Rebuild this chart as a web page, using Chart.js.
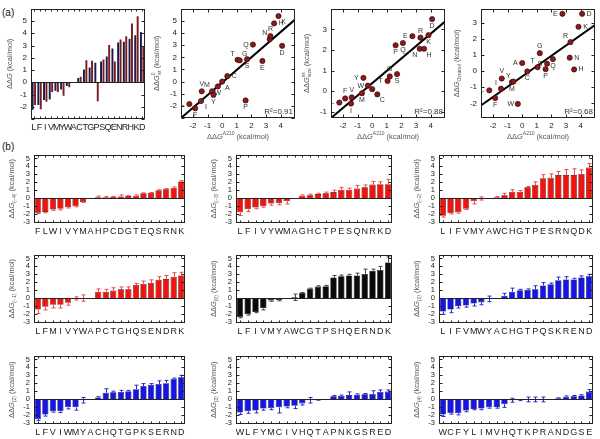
<!DOCTYPE html>
<html><head><meta charset="utf-8">
<script src="https://cdn.jsdelivr.net/npm/chart.js@4.4.1/dist/chart.umd.min.js"></script>
<style>
html,body{margin:0;padding:0;background:#fff}
body{position:relative;width:600px;height:439px;overflow:hidden;font-family:'Liberation Sans',Arial,sans-serif}
canvas{position:absolute}
.tag{position:absolute;font-size:10px;color:#111}
</style></head><body>
<div class="tag" style="left:2px;top:7px">(a)</div>
<div class="tag" style="left:2px;top:141px">(b)</div>
<script>
// ─── DATA: panel (a) ─────────────────────────────────────────
const aaA = ['L','F','I','V','M','Y','W','A','C','T','G','P','S','Q','E','N','R','H','K','D'];
const ddgA210    = [-2.25,-1.85,-1.45,-1.4,-0.7,-0.6,-0.3,0,0.35,1.05,1.2,1.6,1.7,2.1,2.75,3.25,3.3,3.55,3.85,4.1];
const ddgWt      = [-1.85,-2.2,-1.6,-0.8,-0.8,-1.1,-0.4,0,0.45,1.8,1.75,-1.55,1.85,3.05,1.7,3.5,3.75,4.8,5.4,2.95];
const ddgSize    = [-0.55,-0.35,-0.6,-0.3,-0.1,0.65,0.27,0.1,-0.15,0.5,0.72,2.23,0.83,2.34,2.67,2.06,2.6,2.06,2.72,3.5];
const ddgOctanol = [-1.19,-1.67,-1.09,-0.46,-0.68,-0.65,-2.03,0.5,-0.02,0.24,1.11,0.12,0.46,0.74,3.54,0.83,1.79,0.1,2.74,3.54];
const fitWt = [1.04, -0.07];       // slope, intercept
const fitSize = [0.6, 0.39];
const fitOctanol = [0.637, -0.33];
const r2Text = ['R²=0.91', 'R²=0.88', 'R²=0.68'];

// ─── DATA: panel (b) ─────────────────────────────────────────
const aaM4 = 'F L W I V Y M A H P C D G T E Q S R N K'.split(' ');
const ddgM4 = [-1.85,-1.75,-1.45,-1.35,-1.15,-1.05,-0.5,0,0.1,0.1,0.15,0.2,0.25,0.3,0.6,0.65,1.0,1.1,1.3,2.1];
const errM4 = [0.1,0.1,0.1,0.15,0.1,0.05,0.05,0,0.15,0.1,0.05,0.2,0.05,0.1,0.05,0.05,0.05,0.1,0.1,0.1];

const aaM3 = 'L F I V Y W M A G H C T P E S Q N R K D'.split(' ');
const ddgM3 = [-1.8,-1.4,-1.2,-1.05,-0.7,-0.65,-0.4,0,0.3,0.35,0.5,0.6,0.75,1.05,1.05,1.2,1.35,1.7,1.75,1.75];
const errM3 = [0.4,0.3,0.15,0.1,0.2,0.2,0.35,0,0.1,0.15,0.1,0.15,0.25,0.3,0.2,0.4,0.3,0.4,0.3,0.6];

const aaM2 = 'L I F V M Y A W C H G T P E S R N Q D K'.split(' ');
const ddgM2 = [-2.25,-1.9,-1.8,-1.35,-0.4,-0.05,0,0.1,0.35,0.8,0.8,1.35,1.65,2.5,2.55,2.9,2.9,2.9,3.05,3.85];
const errM2 = [0.15,0.1,0.1,0.1,0.35,0.2,0,0.1,0.25,0.25,0.15,0.1,0.4,0.45,0.5,0.45,0.7,0.8,0.5,0.5];

const aaM1 = 'L F M I V Y W A P C T G H Q S E N D R K'.split(' ');
const ddgM1 = [-1.45,-1.1,-0.85,-0.85,-0.6,-0.05,0,0,0.8,0.8,0.95,1.1,1.1,1.65,1.8,1.9,2.3,2.4,2.7,2.85];
const errM1 = [0.5,0.4,0.4,0.4,0.3,0.2,0.4,0,0.35,0.3,0.35,0.3,0.3,0.2,0.35,0.4,0.4,0.45,0.5,0.4];

const aa0 = 'L F I V M Y A W C G T P S H Q E R N D K'.split(' ');
const ddg0 = [-2.4,-2.05,-1.75,-1.3,-0.3,-0.25,0,0.1,0.65,1.2,1.45,1.5,2.6,2.75,2.85,2.85,3.05,3.45,3.55,4.5];
const err0 = [0.1,0.1,0.1,0.2,0.1,0.1,0,0.4,0.05,0.05,0.1,0.1,0.25,0.15,0.15,0.3,0.6,0.2,0.45,0.7];

const aaP1 = 'L I F V M W Y A C H G T P Q S K R E N D'.split(' ');
const ddgP1 = [-1.7,-1.45,-1.0,-0.95,-0.7,-0.55,-0.1,0,0.3,0.8,1.0,1.05,1.1,1.6,1.75,2.25,2.35,2.35,2.6,2.75];
const errP1 = [0.35,0.4,0.25,0.2,0.3,0.3,0.35,0,0.3,0.45,0.1,0.1,0.45,0.35,0.15,0.4,0.35,0.15,0.2,0.25];

const aaP2 = 'L F V I W M Y A C H Q T G P K S E R N D'.split(' ');
const ddgP2 = [-2.55,-1.95,-1.55,-1.55,-1.05,-1.05,-0.15,0,0.2,0.8,0.85,0.9,1.0,1.25,1.65,1.8,1.9,2.0,2.55,2.75];
const errP2 = [0.15,0.2,0.1,0.15,0.2,0.35,0.35,0,0.1,0.5,0.15,0.2,0.1,0.5,0.3,0.15,0.4,0.35,0.1,0.25];

const aaP3 = 'W L F Y M C I V H Q T A P N K G S R E D'.split(' ');
const ddgP3 = [-1.7,-1.55,-1.45,-1.2,-1.15,-1.05,-0.95,-0.85,-0.55,-0.15,-0.1,0,0.35,0.4,0.5,0.55,0.6,0.65,0.9,0.95];
const errP3 = [0.25,0.25,0.3,0.2,0.2,0.7,0.15,0.35,0.2,0.35,0.05,0,0.1,0.1,0.4,0.1,0.1,0.4,0.25,0.2];

const aaP4 = 'W C F Y L I M V H Q T K P R A N D G S E'.split(' ');
const ddgP4 = [-1.95,-1.8,-1.8,-1.45,-1.25,-1.2,-1.05,-1.0,-0.65,-0.15,-0.1,-0.05,-0.05,-0.05,0,0.1,0.3,0.35,0.45,0.95];
const errP4 = [0.25,0.1,0.2,0.15,0.1,0.15,0.1,0.15,0.4,0.25,0.1,0.3,0.3,0.3,0,0.05,0.1,0.1,0.1,0.25];

// ─── STYLE ───────────────────────────────────────────────────
const FONT = "'Liberation Sans', Arial, sans-serif";
Chart.defaults.font.family = FONT;
Chart.defaults.color = '#222';
const RED   = { fill:'#ee1410', edge:'#3a0000', err:'#f04848' };
const BLACK = { fill:'#0a0a0a', edge:'#000', err:'#444' };
const BLUE  = { fill:'#1616e0', edge:'#00004a', err:'#2a2ac8' };
const OFF = { t:[0,-7], b:[0,7], l:[-7,0], r:[7,0], tl:[-5,-6], tr:[5,-6], bl:[-5,6], br:[5,6] };
const tagsWt  = 'l b br t tl b b br r tl tr b b l b tl t r br b'.split(' ');
const tagsSz  = 'l t b t b l l br br l t b b b l bl t br b b'.split(' ');
const tagsOct = 'l b tl t b tl l l b tl t b l b l r tl r r r'.split(' ');

// ─── PLUGINS ─────────────────────────────────────────────────
function drawRich(ctx, parts, x, y, rot) {
  ctx.save(); ctx.translate(x, y); ctx.rotate(rot);
  ctx.fillStyle = '#555'; ctx.textBaseline = 'middle'; ctx.textAlign = 'left';
  const specs = parts.map(p => ({ t:p[0], mode:p[1] || '', font:(p[1] === 'i' ? 'italic ' : '') + (p[1] === 'sub' || p[1] === 'sup' || p[1] === 'supk' ? 5 : 7.5) + 'px ' + FONT }));
  let total = 0;
  specs.forEach(s => { ctx.font = s.font; s.w = ctx.measureText(s.t).width; if (s.mode !== 'supk') total += s.w; });
  let cx = -total / 2;
  specs.forEach(s => {
    ctx.font = s.font;
    const dy = s.mode === 'sub' ? 2.5 : (s.mode === 'sup' || s.mode === 'supk') ? -3 : 0;
    ctx.fillText(s.t, cx, dy);
    if (s.mode !== 'supk') cx += s.w;
  });
  ctx.restore();
}

const errorBars = {
  id: 'errorBars',
  afterDatasetsDraw(chart) {
    const { ctx, scales: { y } } = chart;
    chart.data.datasets.forEach((ds, di) => {
      if (!ds.errors) return;
      const meta = chart.getDatasetMeta(di);
      ctx.save(); ctx.strokeStyle = ds.errorColor; ctx.lineWidth = 1;
      meta.data.forEach((bar, i) => {
        const v = ds.data[i], e = ds.errors[i];
        if (!e) return;
        const sgn = v < 0 ? -1 : 1;
        const lo = Math.abs(v) < e ? v - sgn * e : v;
        const y1 = y.getPixelForValue(lo), y2 = y.getPixelForValue(v + sgn * e);
        const cx = Math.round(bar.x) + 0.5;
        ctx.beginPath();
        ctx.moveTo(cx, y1); ctx.lineTo(cx, y2);
        ctx.moveTo(cx - 2, y2); ctx.lineTo(cx + 2, y2);
        if (lo !== v) { ctx.moveTo(cx - 2, y1); ctx.lineTo(cx + 2, y1); }
        ctx.stroke();
      });
      ctx.restore();
    });
  }
};

const frame = {
  id: 'frame',
  afterDatasetsDraw(chart, args, o) {
    const { ctx, chartArea: a, scales: { x, y } } = chart;
    const L = Math.round(a.left) + 0.5, R = Math.round(a.right) - 0.5;
    const T = Math.round(a.top) + 0.5, B = Math.round(a.bottom) - 0.5;
    ctx.save(); ctx.strokeStyle = '#222'; ctx.lineWidth = 1;
    ctx.beginPath();
    if (o.zero) { const y0 = Math.round(y.getPixelForValue(0)) + 0.5; ctx.moveTo(L, y0); ctx.lineTo(R, y0); }
    y.ticks.forEach(t => {
      const py = Math.round(y.getPixelForValue(t.value)) + 0.5;
      ctx.moveTo(L, py); ctx.lineTo(L + 3, py); ctx.moveTo(R, py); ctx.lineTo(R - 3, py);
    });
    x.ticks.forEach((t, i) => {
      const px = Math.round(x.type === 'category' ? x.getPixelForTick(i) : x.getPixelForValue(t.value)) + 0.5;
      const n = x.type === 'category' ? 2 : 3;
      ctx.moveTo(px, T); ctx.lineTo(px, T + n); ctx.moveTo(px, B); ctx.lineTo(px, B - n);
    });
    ctx.stroke();
    ctx.strokeRect(L, T, R - L, B - T);
    ctx.restore();
  }
};

const labels = {
  id: 'labels',
  afterDraw(chart, args, o) {
    const { ctx, chartArea: a } = chart;
    if (o.tags) {
      ctx.save(); ctx.font = '7px ' + FONT; ctx.fillStyle = '#333';
      ctx.textAlign = 'center'; ctx.textBaseline = 'middle';
      chart.getDatasetMeta(0).data.forEach((pt, i) => {
        const d = OFF[o.tags[i]];
        ctx.fillText(o.names[i], pt.x + d[0], pt.y + d[1]);
      });
      ctx.restore();
    }
    if (o.note) {
      ctx.save(); ctx.font = '8px ' + FONT; ctx.fillStyle = '#333';
      ctx.textAlign = 'right'; ctx.textBaseline = 'bottom';
      ctx.fillText(o.note, a.right - 2, a.bottom - 2);
      ctx.restore();
    }
    if (o.yTitle) drawRich(ctx, o.yTitle, a.left - o.yOff, (a.top + a.bottom) / 2, -Math.PI / 2);
    if (o.xTitle) drawRich(ctx, o.xTitle, (a.left + a.right) / 2, a.bottom + o.xOff, 0);
  }
};
Chart.register(errorBars, frame, labels);

// ─── HELPERS ─────────────────────────────────────────────────
function addCanvas(box, pad) {
  const c = document.createElement('canvas');
  c.width = pad.l + box.w + pad.r; c.height = pad.t + box.h + pad.b;
  c.style.left = (box.l - pad.l) + 'px'; c.style.top = (box.t - pad.t) + 'px';
  document.body.appendChild(c);
  return c;
}

const yTicks = extra => Object.assign({ stepSize:1, includeBounds:false, autoSkip:false, padding:4, font:{ size:7.5 }, color:'#222' }, extra);

function axes(pad, xOpt, yOpt) {
  return {
    x: Object.assign({ grid:{ display:false, drawTicks:false }, border:{ display:false },
      ticks:{ autoSkip:false, maxRotation:0, padding:3, font:{ size:9 }, color:'#222' },
      afterFit: s => { s.height = pad.b; } }, xOpt),
    y: Object.assign({ grid:{ display:false, drawTicks:false }, border:{ display:false },
      ticks: yTicks({}),
      afterFit: s => { s.width = pad.l; } }, yOpt)
  };
}

const hideEdge = (lo, hi) => v => (v <= lo || v >= hi) ? '' : v;

function barPanel(box, names, values, errs, col, sub) {
  const pad = { l:34, t:6, r:6, b:15 };
  new Chart(addCanvas(box, pad), {
    type: 'bar',
    data: { labels: names, datasets: [{ data: values, errors: errs, errorColor: col.err,
      backgroundColor: col.fill, borderColor: col.edge, borderWidth: 0.6,
      barPercentage: 0.82, categoryPercentage: 1 }] },
    options: {
      responsive: false, animation: false, events: [],
      layout: { padding: { top: pad.t, right: pad.r, left: 0, bottom: 0 } },
      plugins: { legend: { display: false }, tooltip: { enabled: false },
        frame: { zero: true },
        labels: { yTitle: [['ΔΔ'], ['G', 'i'], [sub, 'sub'], [' (kcal/mol)']], yOff: 22 } },
      scales: axes(pad, {}, { min: -3.15, max: 5.5 })
    }
  });
}

function scatterPanel(box, xs, ys, fit, yMin, yMax, yTitle, tags, note) {
  const pad = { l:30, t:6, r:5, b:26 };
  const xMin = -2.82, xMax = 4.98;
  new Chart(addCanvas(box, pad), {
    type: 'scatter',
    data: { datasets: [
      { data: xs.map((v, i) => ({ x: v, y: ys[i] })), order: 0,
        pointRadius: 2.6, pointBorderWidth: 0.7, backgroundColor: '#8a1a1c', borderColor: '#3a0406' },
      { type: 'line', order: 1, data: [xMin, xMax].map(v => ({ x: v, y: fit[1] + fit[0] * v })),
        borderColor: '#000', borderWidth: 2, pointRadius: 0 }
    ] },
    options: {
      responsive: false, animation: false, events: [],
      layout: { padding: { top: pad.t, right: pad.r, left: 0, bottom: 0 } },
      plugins: { legend: { display: false }, tooltip: { enabled: false },
        labels: { tags, names: aaA, note, yTitle, yOff: 24,
          xTitle: [['ΔΔ'], ['G', 'i'], ['A210', 'sup'], [' (kcal/mol)']], xOff: 19 } },
      scales: axes(pad,
        { type: 'linear', min: xMin, max: xMax, ticks: { stepSize: 1, includeBounds: false, padding: 3, font: { size: 8 }, color: '#222' } },
        { min: yMin, max: yMax, ticks: yTicks({ font: { size: 8 }, callback: hideEdge(yMin + 0.2, yMax - 0.2) }) })
    }
  });
}

// ─── PANEL (a) ───────────────────────────────────────────────
(function () {
  const box = { l:31, t:5, w:114, h:114 };
  const pad = { l:31, t:5, r:4, b:16 };
  new Chart(addCanvas(box, pad), {
    type: 'bar',
    data: { labels: aaA, datasets: [
      { data: ddgA210, backgroundColor: '#1c1a48', barPercentage: 0.8, categoryPercentage: 0.85 },
      { data: ddgWt, backgroundColor: '#7a1c20', barPercentage: 0.8, categoryPercentage: 0.85 }
    ] },
    options: {
      responsive: false, animation: false, events: [],
      layout: { padding: { top: pad.t, right: pad.r, left: 0, bottom: 0 } },
      plugins: { legend: { display: false }, tooltip: { enabled: false },
        frame: { zero: true },
        labels: { yTitle: [['ΔΔ'], ['G', 'i'], [' (kcal/mol)']], yOff: 21 } },
      scales: axes(pad, {}, { min: -3, max: 6, ticks: yTicks({ font: { size: 8 }, callback: hideEdge(-2.8, 5.8) }) })
    }
  });
})();

scatterPanel({ l:181, t:6, w:114, h:112 }, ddgA210, ddgWt, fitWt, -3, 6,
  [['ΔΔ'], ['G', 'i'], ['0', 'supk'], ['wt', 'sub'], [' (kcal/mol)']], tagsWt, r2Text[0]);
scatterPanel({ l:331, t:6, w:114, h:112 }, ddgA210, ddgSize, fitSize, -1.3, 4,
  [['ΔΔ'], ['G', 'i'], ['ss', 'supk'], ['size', 'sub'], [' (kcal/mol)']], tagsSz, r2Text[1]);
scatterPanel({ l:481, t:6, w:114, h:112 }, ddgA210, ddgOctanol, fitOctanol, -2.9, 3.85,
  [['ΔΔ'], ['G', 'i'], ['Octanol', 'sub'], [' (kcal/mol)']], tagsOct, r2Text[2]);

// ─── PANEL (b) ───────────────────────────────────────────────
const colL = [34, 236, 439], colW = [151, 156, 154], rowT = [152, 252, 353];
const bx = (r, c) => ({ l: colL[c], t: rowT[r], w: colW[c], h: 71 });
barPanel(bx(0, 0), aaM4, ddgM4, errM4, RED, '(−4)');
barPanel(bx(0, 1), aaM3, ddgM3, errM3, RED, '(−3)');
barPanel(bx(0, 2), aaM2, ddgM2, errM2, RED, '(−2)');
barPanel(bx(1, 0), aaM1, ddgM1, errM1, RED, '(−1)');
barPanel(bx(1, 1), aa0, ddg0, err0, BLACK, '(0)');
barPanel(bx(1, 2), aaP1, ddgP1, errP1, BLUE, '(1)');
barPanel(bx(2, 0), aaP2, ddgP2, errP2, BLUE, '(2)');
barPanel(bx(2, 1), aaP3, ddgP3, errP3, BLUE, '(3)');
barPanel(bx(2, 2), aaP4, ddgP4, errP4, BLUE, '(4)');
</script></body></html>
